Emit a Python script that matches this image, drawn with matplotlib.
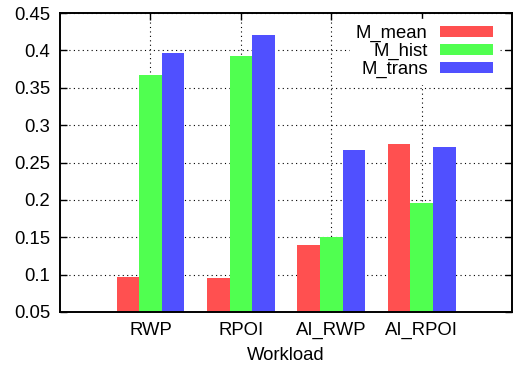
import matplotlib
matplotlib.use("Agg")
import matplotlib.pyplot as plt
import numpy as np

categories = ["RWP", "RPOI", "AI_RWP", "AI_RPOI"]
series_names = ["M_mean", "M_hist", "M_trans"]
m_mean = [0.097, 0.096, 0.139, 0.275]
m_hist = [0.367, 0.393, 0.150, 0.196]
m_trans = [0.397, 0.421, 0.267, 0.271]
colors = ["#ff5050", "#50ff50", "#5050ff"]

plt.rcParams['font.family'] = ['Liberation Sans', 'DejaVu Sans']
plt.rcParams['font.size'] = 13.3

fig = plt.figure(figsize=(5.16, 3.70), dpi=100)
ax = fig.add_axes([60/516, 1-312/370, (512-60)/516, (312-13)/370])

x = np.arange(len(categories))
w = 0.25
for i, (vals, c, name) in enumerate(zip([m_mean, m_hist, m_trans], colors, series_names)):
    ax.bar(x + (i-1)*w, np.array(vals) - 0.05, bottom=0.05, width=w, color=c,
           label=name, zorder=3, linewidth=0)

ax.set_xlim(-1, 4)
ax.set_ylim(0.05, 0.45)
ax.set_xticks(x)
ax.set_xticklabels(categories)
yt = np.round(np.arange(0.05, 0.451, 0.05), 2)
ax.set_yticks(yt)
ax.set_yticklabels([f"{v:g}" for v in yt])
ax.grid(True, color='black', linestyle=(0, (1, 3)), linewidth=0.8, zorder=1)
ax.set_axisbelow(True)
ax.tick_params(direction='in', length=5, width=1, top=True, right=True, pad=7)
for s in ax.spines.values():
    s.set_linewidth(1.4)
    s.set_zorder(5)
ax.set_xlabel("Workload", labelpad=6)

leg = ax.legend(loc='upper right', bbox_to_anchor=(1 - 4/452, 1 + 3/299),
                markerfirst=False, frameon=True, fancybox=False,
                edgecolor='white', facecolor='white', framealpha=1,
                handlelength=2.9, handleheight=0.54, labelspacing=0.05,
                borderpad=0.3, handletextpad=0.65, borderaxespad=0.5)
for t in leg.get_texts():
    t.set_ha('right')
leg.set_zorder(4)

fig.savefig("out.png", dpi=100)
